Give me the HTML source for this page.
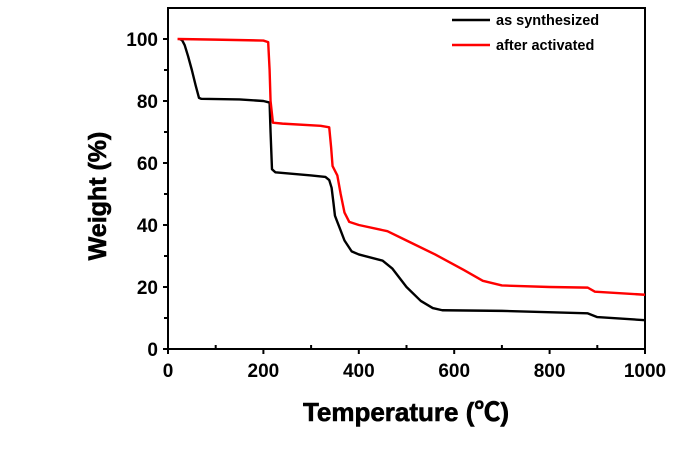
<!DOCTYPE html>
<html><head><meta charset="utf-8"><style>
body{margin:0;background:#fff}
svg{display:block;font-family:"Liberation Sans","Noto Sans CJK SC",sans-serif}
</style></head><body>
<svg id="chart" width="700" height="475"></svg>
<script>
const xTicks=[0,200,400,600,800,1000];
const yTicks=[0,20,40,60,80,100];
const blackT=[25,30,35,42,50,58,65,70,150,200,213,215,218,225,300,330,338,343,347,350,355,360,370,385,400,450,470,500,530,555,575,700,880,900,1000];
const blackW=[100,99.5,98,94.5,90,85,81,80.7,80.5,80,79.5,70,58,57,56,55.5,54.5,52,47,43,41,39,35,31.5,30.5,28.5,26,20,15.5,13.2,12.5,12.3,11.5,10.3,9.3];
const redT=[20,100,200,210,213,215,220,240,320,338,342,345,355,362,370,380,400,460,500,560,620,660,700,800,880,895,1000];
const redW=[100,99.8,99.5,99,90,80,73,72.7,72,71.5,65,59,56,50,44,41,40,38,35,30.5,25.5,22,20.5,20,19.8,18.5,17.5];
const svg=document.getElementById('chart');
const NS='http://www.w3.org/2000/svg';
const X0=168,X1=645,Y0=349,YS=3.1,YMAX=110;
const sx=v=>X0+(X1-X0)*v/1000;
const sy=v=>Y0-v*YS;
function el(t,a,p){const e=document.createElementNS(NS,t);for(const k in a)e.setAttribute(k,a[k]);(p||svg).appendChild(e);return e;}
let f=el('rect',{x:X0,y:sy(YMAX),width:X1-X0,height:Y0-sy(YMAX),fill:'none',stroke:'#000','stroke-width':2});


for(let v=0;v<=1000;v+=100){const maj=v%200===0;
 let t=el('line',{x1:sx(v),x2:sx(v),y1:maj?Y0+5:Y0-4,y2:Y0,stroke:'#000','stroke-width':2});
 
 }
xTicks.forEach(v=>{let t=el('text',{x:sx(v),y:Y0+28,'text-anchor':'middle','font-size':19,'font-weight':'bold'});t.textContent=v;
 
 });
for(let v=0;v<=100;v+=10){const maj=v%20===0;
 let t=el('line',{x1:X0-(maj?5:4),x2:X0,y1:sy(v),y2:sy(v),stroke:'#000','stroke-width':2});
 
 }
yTicks.forEach(v=>{let t=el('text',{x:X0-10,y:sy(v)+7,'text-anchor':'end','font-size':19,'font-weight':'bold'});t.textContent=v;
 
 });
function line(T,W,c,n){let p=el('polyline',{points:T.map((t,i)=>sx(t)+','+sy(W[i])).join(' '),fill:'none',stroke:c,'stroke-width':2.4,'stroke-linejoin':'round'});
 
 }
line(blackT,blackW,'#000','series-as-synthesized');
line(redT,redW,'#f00','series-after-activated');
[['as synthesized','#000',20],['after activated','#f00',45]].forEach(([s,c,y])=>{
 let g=el('g',{});
 
 
 el('line',{x1:452,x2:490,y1:y,y2:y,stroke:c,'stroke-width':2.4},g);
 let t=el('text',{x:496,y:y+5,'font-size':14.5,'font-weight':'bold'},g);t.textContent=s;});
let xt=el('text',{x:406,y:421,'text-anchor':'middle','font-size':26,'font-weight':'bold','stroke':'#000','stroke-width':0.6});xt.textContent='Temperature (℃)';


let yt=el('text',{x:0,y:0,'text-anchor':'middle','font-size':25,'font-weight':'bold','stroke':'#000','stroke-width':0.6,transform:'translate(106,196) rotate(-90)'});yt.textContent='Weight (%)';


</script>
</body></html>
